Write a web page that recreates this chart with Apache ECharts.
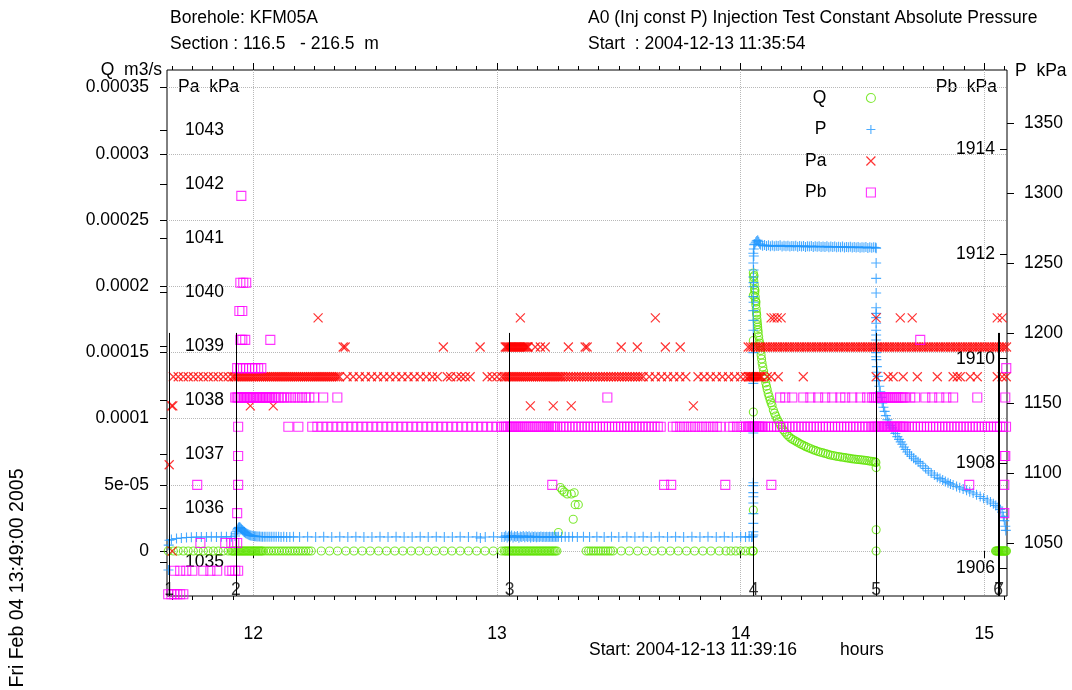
<!DOCTYPE html>
<html>
<head>
<meta charset="utf-8">
<script src="https://cdn.jsdelivr.net/npm/echarts@6/dist/echarts.min.js"></script>
<style>html,body{margin:0;padding:0;background:#fff;}#c{width:1072px;height:690px;}</style>
</head>
<body>
<div id="c"></div>
<script>
// ---------------- DATA ----------------
// time axis in hours of day
const hourTicks = [12, 13, 14, 15];
const hourLabels = ['12', '13', '14', '15'];
const qTickValues = [0, 0.00005, 0.0001, 0.00015, 0.0002, 0.00025, 0.0003, 0.00035];
const qTickLabels = ['0', '5e-05', '0.0001', '0.00015', '0.0002', '0.00025', '0.0003', '0.00035'];
const paTickValues = [1035, 1036, 1037, 1038, 1039, 1040, 1041, 1042, 1043];
const pTickValues = [1050, 1100, 1150, 1200, 1250, 1300, 1350];
const pbTickValues = [1906, 1908, 1910, 1912, 1914];

// test phase markers
const phaseTimes = [11.6544, 11.929, 13.052, 14.053, 14.556, 15.057, 15.061];
const phaseLabels = ['1', '2', '3', '4', '5', '6', '7'];

// Q (m3/s): logged times where Q reads 0
const qZeroTimes = [
11.651,11.672,11.692,11.713,11.733,11.754,11.774,11.795,11.815,11.836,11.856,11.877,11.897,
11.910,11.915,11.920,11.925,11.930,11.935,11.940,11.945,11.950,11.955,11.960,11.965,11.970,11.975,11.980,11.985,11.990,11.995,12.000,12.005,12.010,12.015,12.020,12.025,12.030,12.035,
12.040,12.051,12.062,12.073,12.084,12.095,12.106,12.117,12.128,12.139,12.150,12.161,12.172,12.183,12.194,12.205,12.216,12.227,12.238,
12.279,12.313,12.346,12.380,12.413,12.447,12.480,12.514,12.547,12.581,12.614,12.648,12.681,12.715,12.748,12.782,12.815,12.849,12.883,12.917,12.951,12.985,13.019,
13.030,13.036,13.042,13.048,13.054,13.060,13.066,13.072,13.078,13.084,13.090,13.096,13.102,13.108,13.114,13.120,13.126,13.132,13.138,13.144,13.150,13.156,13.162,13.168,13.174,13.180,13.186,13.192,13.198,13.204,13.210,13.216,13.222,13.228,13.234,13.240,13.246,
13.366,13.376,13.386,13.396,13.406,13.416,13.426,13.436,13.446,13.456,13.466,13.476,13.510,13.543,13.577,13.610,13.644,13.677,13.711,13.744,13.778,13.811,13.845,13.878,13.912,13.940,13.960,13.980,14.000,14.020,14.040,14.050,14.052,
14.556,
15.046,15.049,15.052,15.055,15.058,15.061,15.064,15.067,15.070,15.073,15.076,15.079,15.082,15.085,15.088,15.091
];
// Q (m3/s): non-zero readings [time, Q]
const qFlow = [
[13.252,1.4e-5],[13.260,4.8e-5],[13.268,4.6e-5],[13.276,4.45e-5],[13.288,4.3e-5],[13.305,4.3e-5],[13.317,4.4e-5],[13.313,2.4e-5],[13.321,3.5e-5],[13.334,3.5e-5],
[14.052,3.1e-5],[14.052,1.05e-4],[14.052,1.59e-4],[14.052,1.93e-4],
[14.052,2.10e-4],[14.053,2.07e-4],[14.054,2.04e-4],[14.055,2.08e-4],[14.056,2.01e-4],[14.057,1.98e-4],[14.058,1.95e-4],[14.059,1.97e-4],[14.060,1.92e-4],[14.061,1.89e-4],[14.062,1.86e-4],[14.063,1.88e-4],[14.064,1.83e-4],[14.065,1.80e-4],[14.066,1.78e-4],[14.067,1.75e-4],[14.068,1.73e-4],[14.069,1.71e-4],[14.070,1.69e-4],[14.071,1.67e-4],[14.072,1.65e-4],[14.074,1.62e-4],[14.076,1.59e-4],[14.078,1.57e-4],[14.080,1.55e-4],[14.082,1.515e-4],[14.084,1.48e-4],[14.086,1.45e-4],[14.088,1.42e-4],[14.091,1.39e-4],[14.094,1.36e-4],[14.097,1.33e-4],[14.100,1.30e-4],[14.103,1.27e-4],[14.106,1.245e-4],[14.109,1.22e-4],[14.113,1.19e-4],[14.117,1.165e-4],[14.121,1.14e-4],[14.125,1.12e-4],[14.129,1.10e-4],[14.134,1.065e-4],[14.139,1.04e-4],[14.144,1.02e-4],[14.150,9.95e-5],[14.156,9.75e-5],[14.162,9.55e-5],[14.168,9.35e-5],[14.175,9.15e-5],[14.182,8.98e-5],[14.190,8.8e-5],[14.198,8.65e-5],[14.206,8.52e-5],[14.214,8.42e-5],[14.223,8.32e-5],[14.232,8.23e-5],[14.241,8.13e-5],[14.250,8.04e-5],[14.259,7.96e-5],[14.268,7.88e-5],[14.278,7.8e-5],[14.288,7.72e-5],[14.298,7.64e-5],[14.308,7.58e-5],[14.318,7.52e-5],[14.328,7.46e-5],[14.338,7.41e-5],[14.348,7.36e-5],[14.358,7.3e-5],[14.368,7.25e-5],[14.378,7.21e-5],[14.388,7.17e-5],[14.398,7.14e-5],[14.408,7.11e-5],[14.418,7.08e-5],[14.428,7.05e-5],[14.437,7.02e-5],[14.446,7.0e-5],[14.455,6.97e-5],[14.464,6.95e-5],[14.473,6.93e-5],[14.482,6.91e-5],[14.491,6.89e-5],[14.500,6.87e-5],[14.509,6.85e-5],[14.518,6.83e-5],[14.527,6.8e-5],[14.536,6.78e-5],[14.545,6.75e-5],[14.552,6.72e-5],[14.555,6.68e-5],[14.556,6.3e-5],[14.556,1.6e-5]
];

// P (kPa) [time, P]
const pPairs = [
[11.652,1030.7],[11.653,1048.5],[11.656,1052.0],
[11.664,1052.5],[11.685,1053.2],[11.705,1053.6],[11.726,1053.9],[11.746,1054.1],[11.767,1054.2],[11.787,1054.3],[11.808,1054.3],[11.828,1054.4],[11.849,1054.3],[11.869,1054.4],[11.890,1054.4],[11.910,1054.5],
[11.925,1055.0],[11.928,1056.5],[11.931,1058.0],[11.934,1059.3],[11.937,1060.3],[11.940,1061.0],[11.943,1061.3],[11.946,1061.0],[11.949,1060.4],[11.952,1059.8],[11.955,1059.2],[11.958,1058.7],[11.961,1058.2],[11.964,1057.8],[11.967,1057.4],[11.970,1057.0],[11.974,1056.6],[11.978,1056.2],[11.982,1055.9],[11.986,1055.6],[11.990,1055.4],[11.995,1055.2],[12.000,1055.0],[12.005,1054.9],[12.010,1054.8],[12.015,1054.7],[12.020,1054.6],[12.026,1054.6],[12.032,1054.5],[12.038,1054.5],[12.045,1054.5],[12.052,1054.4],[12.060,1054.4],[12.068,1054.5],[12.076,1054.4],[12.085,1054.4],[12.094,1054.4],[12.104,1054.4],[12.114,1054.3],[12.125,1054.4],[12.137,1054.3],[12.150,1054.3],[12.165,1054.4],
[12.190,1054.3],[12.223,1054.4],[12.256,1054.3],[12.289,1054.4],[12.322,1054.3],[12.355,1054.4],[12.388,1054.3],[12.421,1054.4],[12.454,1054.3],[12.487,1054.3],[12.520,1054.4],[12.553,1054.3],[12.586,1054.4],[12.619,1054.3],[12.652,1054.3],[12.685,1054.4],[12.718,1054.3],[12.751,1054.4],[12.784,1054.3],[12.817,1054.3],[12.849,1054.4],[12.883,1054.3],[12.917,1054.4],[12.932,1053.6],[12.952,1054.3],[12.986,1054.4],[13.020,1054.3],
[13.030,1054.2],[13.036,1055.1],[13.042,1053.9],[13.048,1054.8],[13.054,1054.4],[13.060,1055.3],[13.066,1054.0],[13.072,1054.9],[13.078,1054.3],[13.084,1055.0],[13.090,1053.8],[13.096,1054.7],[13.102,1054.2],[13.108,1055.0],[13.114,1054.1],[13.120,1054.8],[13.126,1054.3],[13.132,1054.9],[13.138,1054.0],[13.144,1054.6],[13.150,1054.3],[13.156,1054.7],[13.162,1054.1],[13.168,1054.5],[13.174,1054.3],[13.180,1054.6],[13.186,1054.2],[13.192,1054.5],[13.198,1054.3],[13.204,1054.4],[13.210,1054.2],[13.216,1054.5],[13.222,1054.3],[13.228,1054.4],[13.234,1054.2],[13.240,1054.4],[13.246,1054.3],
[13.252,1054.4],[13.265,1054.3],[13.280,1054.4],[13.295,1054.3],[13.310,1054.4],[13.330,1054.3],[13.355,1054.4],[13.380,1054.3],[13.410,1054.4],[13.440,1054.3],[13.470,1054.4],[13.500,1054.3],[13.533,1054.4],[13.566,1054.3],[13.600,1054.4],[13.633,1054.3],[13.666,1054.4],[13.700,1054.3],[13.733,1054.4],[13.766,1054.3],[13.800,1054.4],[13.833,1054.3],[13.866,1054.4],[13.900,1054.3],[13.933,1054.4],[13.966,1054.3],[14.000,1054.4],[14.020,1054.3],[14.035,1054.4],[14.045,1054.3],[14.050,1054.5],
[14.052,1055.7],[14.052,1058.0],[14.052,1064.0],[14.052,1071.0],[14.052,1078.6],[14.052,1083.0],[14.052,1086.0],[14.052,1091.0],[14.052,1093.0],[14.052,1128.6],[14.052,1164.0],[14.052,1186.0],[14.052,1202.0],[14.052,1209.0],[14.052,1216.0],[14.053,1222.0],[14.052,1226.0],[14.052,1233.0],[14.053,1236.0],[14.052,1240.0],[14.053,1245.0],[14.052,1250.0],[14.054,1255.0],[14.052,1257.0],[14.054,1260.0],[14.055,1263.0],
[14.058,1263.5],[14.062,1264.8],[14.066,1265.8],[14.070,1266.2],[14.074,1265.2],[14.078,1263.8],
[14.082,1263.0],[14.090,1262.4],[14.098,1262.8],[14.106,1262.2],[14.114,1262.6],[14.122,1262.0],[14.130,1262.5],[14.138,1261.9],[14.146,1262.4],[14.154,1262.1],[14.162,1262.6],[14.170,1261.8],[14.178,1262.3],[14.186,1262.0],[14.194,1262.4],[14.202,1261.7],[14.210,1262.2],[14.218,1261.9],[14.226,1262.3],[14.234,1261.6],[14.242,1262.1],[14.250,1261.8],[14.258,1262.2],[14.266,1261.5],[14.274,1262.0],[14.282,1261.7],[14.290,1262.1],[14.298,1261.5],[14.306,1261.9],[14.314,1261.6],[14.322,1262.0],[14.330,1261.4],[14.338,1261.8],[14.346,1261.5],[14.354,1261.9],[14.362,1261.3],[14.370,1261.7],[14.378,1261.4],[14.386,1261.8],[14.394,1261.2],[14.402,1261.6],[14.410,1261.3],[14.418,1261.7],[14.426,1261.1],[14.434,1261.5],[14.442,1261.2],[14.450,1261.6],[14.458,1261.0],[14.466,1261.4],[14.474,1261.1],[14.482,1261.5],[14.490,1260.9],[14.498,1261.3],[14.506,1261.0],[14.514,1261.4],[14.522,1260.8],[14.530,1261.2],[14.538,1260.9],[14.546,1261.3],[14.554,1261.0],
[14.556,1260.5],[14.556,1250.0],[14.556,1239.0],[14.556,1228.6],[14.556,1218.0],[14.556,1214.0],[14.556,1211.0],[14.556,1207.0],[14.556,1202.0],[14.556,1198.6],[14.556,1195.0],[14.556,1192.0],[14.556,1189.0],[14.556,1186.0],[14.556,1183.0],
[14.557,1181],[14.559,1176],[14.561,1172],[14.563,1169],[14.565,1166],[14.569,1162],[14.573,1158],[14.577,1154],[14.581,1150],[14.586,1147],[14.591,1144],[14.596,1141],[14.602,1138],[14.608,1136],[14.614,1134],[14.621,1132.2],[14.628,1130.5],[14.635,1128.2],[14.643,1126],[14.650,1124],[14.657,1122.2],[14.663,1120.5],[14.670,1118.6],[14.677,1116.8],[14.684,1115],[14.693,1113.4],[14.701,1112],[14.710,1110.5],[14.719,1109.3],[14.728,1108.1],[14.737,1107],[14.748,1105.1],[14.759,1103.3],[14.770,1101.5],[14.782,1100],[14.795,1098.5],[14.807,1097],[14.818,1096],[14.829,1095],[14.840,1094],[14.851,1093.1],[14.861,1092.2],[14.872,1091.4],[14.886,1090.4],[14.899,1089.5],[14.913,1088.5],[14.927,1087.6],[14.940,1086.6],[14.954,1085.7],[14.968,1084.5],[14.983,1083.2],[14.997,1081.9],[15.012,1080.7],[15.025,1079.3],[15.037,1078],[15.047,1076.8],[15.057,1075.7],[15.065,1074],[15.073,1072],[15.078,1069],[15.082,1066],[15.086,1062],[15.088,1059]
];

// Pa (kPa): logger levels and the times each level was read
const PA_LOW = 1038.43, PA_HIGH = 1038.98, PA_TOP = 1039.52, PA_DIP = 1037.89;
const paLowTimes = [
11.672,11.692,11.713,11.733,11.754,11.774,11.795,11.815,11.836,11.856,11.877,11.897,11.915,
11.922,11.930,11.938,11.946,11.954,11.962,11.970,11.978,11.986,11.994,12.002,12.010,12.018,12.026,12.034,12.042,12.050,12.058,12.066,12.074,12.082,12.090,12.098,12.106,12.114,12.122,12.130,12.138,12.146,12.154,12.162,12.170,12.178,12.186,12.194,12.202,12.210,12.218,12.226,12.234,12.242,12.250,12.258,12.266,12.274,12.282,12.290,12.298,12.306,12.314,12.322,12.330,12.338,12.346,12.354,
12.385,12.410,12.435,12.460,12.485,12.510,12.535,12.560,12.585,12.610,12.635,12.660,12.685,12.710,12.735,12.755,12.796,12.810,12.835,12.853,12.870,12.890,12.960,12.980,13.000,13.020,
13.030,13.038,13.046,13.054,13.062,13.070,13.078,13.086,13.094,13.102,13.110,13.118,13.126,13.134,13.142,13.150,13.158,13.166,13.174,13.182,13.190,13.198,13.206,13.214,13.222,13.230,13.238,13.246,13.254,13.262,13.270,
13.281,13.292,13.303,13.314,13.325,13.336,13.347,13.358,13.369,13.380,13.391,13.402,13.413,13.424,13.435,13.446,13.457,13.468,13.479,13.490,13.501,13.512,13.523,13.534,13.545,13.556,13.567,13.578,13.589,13.600,
13.625,13.650,13.675,13.700,13.725,13.750,13.775,13.825,13.850,13.875,13.900,13.925,13.950,13.975,14.000,14.020,
14.031,14.036,14.041,14.046,14.051,14.056,14.061,14.066,14.071,14.076,14.081,14.086,
14.109,14.125,14.154,14.257,
14.556,14.605,14.626,14.667,14.725,14.807,14.872,14.889,14.901,14.942,14.971,15.053,15.073,15.090
];
const paHighTimes = [
12.369,12.377,12.780,12.931,
13.034,13.039,13.044,13.049,13.054,13.059,13.064,13.069,13.074,13.079,13.084,13.089,13.094,13.099,13.104,13.109,13.114,13.119,13.124,13.128,
13.157,13.178,13.198,13.293,13.362,13.370,13.510,13.576,13.691,13.752,
14.031,14.041,14.051,14.061,14.071,14.081,14.091,14.101,14.111,14.121,14.131,14.141,14.151,14.161,14.171,14.181,14.191,14.201,14.211,14.221,14.231,14.241,14.251,14.261,14.271,14.281,14.291,14.301,14.311,14.321,14.331,14.341,14.351,14.361,14.371,14.381,14.391,14.401,14.411,14.421,14.431,14.441,14.451,14.461,14.471,14.481,14.491,14.501,14.511,14.521,14.531,14.541,14.551,14.561,14.571,14.581,14.591,14.601,14.611,14.621,14.631,14.641,14.651,14.661,14.671,14.681,14.691,14.701,14.711,14.721,14.731,14.741,14.751,14.761,14.771,14.781,14.791,14.801,14.811,14.821,14.831,14.841,14.851,14.861,14.871,14.881,14.891,14.901,14.911,14.921,14.931,14.941,14.951,14.961,14.971,14.981,14.991,15.001,15.011,15.021,15.031,15.041,15.051,15.061,15.071,15.081,15.091
];
const paTopTimes = [12.266,13.096,13.650,14.125,14.137,14.150,14.166,14.556,14.655,14.704,15.053,15.073];
const paDipTimes = [11.665,11.670,11.988,12.082,13.137,13.231,13.305,13.806];
const paOther = [[11.655,1036.8],[11.667,1035.2]];

// Pb (kPa): main logger levels and times
const PB_BAND = 1908.70, PB_UPPER = 1909.26;
const pbBandTimes = [
11.938,12.144,12.185,
12.242,12.263,12.283,12.304,12.324,12.345,12.365,12.386,12.406,12.427,12.447,12.468,12.488,12.509,12.529,12.550,12.570,12.591,12.611,12.632,12.652,12.673,12.693,12.714,12.734,12.755,12.775,12.796,12.816,12.837,12.857,12.878,12.898,12.919,12.939,12.960,12.980,13.001,13.021,
13.030,13.038,13.046,13.054,13.062,13.070,13.078,13.086,13.094,13.102,13.110,13.118,13.126,13.134,13.142,13.150,13.158,13.166,13.174,13.182,13.190,13.198,13.206,13.214,13.222,13.230,13.238,13.246,
13.260,13.272,13.285,13.297,13.310,13.322,13.335,13.347,13.360,13.372,13.385,13.397,13.410,13.422,13.435,13.447,13.460,13.472,13.485,13.497,13.510,13.522,13.535,13.547,13.560,13.572,13.585,13.597,13.610,13.622,13.635,13.647,13.660,13.672,
13.722,13.737,13.752,13.767,13.782,13.797,13.812,13.827,13.842,13.857,13.872,13.887,13.902,13.917,
13.955,13.970,13.985,14.000,14.012,14.022,
14.030,14.035,14.040,14.045,14.050,14.055,14.060,14.065,14.070,14.075,14.080,14.085,14.090,
14.100,14.112,14.125,14.137,14.150,14.162,14.175,14.187,14.200,14.212,14.225,14.237,14.250,14.262,14.275,14.287,14.300,14.312,14.325,14.337,14.350,14.362,14.375,14.387,14.400,14.412,14.425,14.437,14.450,14.462,14.475,14.487,14.500,14.512,14.525,14.537,
14.545,14.551,14.557,14.563,14.569,14.575,14.581,14.587,14.593,14.599,14.605,14.611,14.617,14.623,14.629,14.635,14.641,14.647,14.653,14.659,14.665,14.671,14.677,
14.690,14.702,14.715,14.727,14.740,14.752,14.765,14.777,14.790,14.802,14.815,14.827,14.840,14.852,14.865,14.877,14.890,14.902,14.915,14.927,14.940,14.952,14.965,14.977,14.990,15.002,15.015,15.027,15.040,15.052,15.065,15.077,15.089
];
const pbUpperTimes = [
11.926,11.932,11.938,11.944,11.950,11.956,11.962,11.968,11.974,11.980,11.986,11.992,11.998,12.004,12.010,12.016,12.022,12.028,12.034,12.040,12.046,12.052,12.058,12.064,12.070,12.076,12.084,12.094,12.104,12.114,12.126,12.140,12.155,12.170,12.185,12.200,12.215,12.230,12.250,12.287,12.345,
13.453,14.162,14.183,14.212,14.257,14.286,14.318,14.347,14.376,14.409,14.429,14.458,14.491,14.519,
14.540,14.548,14.556,14.564,14.572,14.580,14.588,14.596,14.604,14.612,14.620,14.628,14.636,14.644,14.652,14.660,14.668,14.675,
14.696,14.716,14.758,14.786,14.815,14.844,14.872,14.971,15.086
];
const pbOther = [
[11.651,1905.5],[11.664,1905.5],[11.676,1905.5],[11.688,1905.5],[11.700,1905.5],[11.713,1905.5],
[11.676,1905.95],[11.700,1905.95],[11.725,1905.95],[11.750,1905.95],[11.795,1905.95],[11.824,1905.95],[11.852,1905.95],[11.902,1905.95],[11.914,1905.95],[11.926,1905.95],[11.938,1905.95],
[11.783,1906.48],[11.885,1906.48],[11.910,1906.48],[11.922,1906.48],[11.934,1906.48],
[11.934,1907.05],[15.082,1907.05],
[11.770,1907.59],[11.938,1907.59],[13.227,1907.59],[13.686,1907.59],[13.715,1907.59],[13.937,1907.59],[14.126,1907.59],[14.938,1907.59],[15.082,1907.59],
[11.938,1908.14],[15.082,1908.14],[15.086,1908.14],
[11.934,1909.82],[11.946,1909.82],[11.958,1909.82],[11.970,1909.82],[11.983,1909.82],[11.995,1909.82],[12.008,1909.82],[12.020,1909.82],[12.033,1909.82],[15.090,1909.82],
[11.947,1910.36],[11.955,1910.36],[11.967,1910.36],[12.070,1910.36],[14.737,1910.36],
[11.943,1910.91],[11.955,1910.91],
[11.947,1911.45],[11.959,1911.45],[11.971,1911.45],
[11.951,1913.11]
];

// ---------------- CHART ----------------
const FONT = 'Liberation Sans';
const FS = 17.5;
const GREEN = '#5fe300', BLUE = '#1e96ff', RED = '#ff0000', MAGENTA = '#ff00ff';
const X_MIN = 11.646, X_MAX = 15.093;
const Q_MIN = -0.000034, Q_MAX = 0.0003633;
const PA_MIN = 1034.37, PA_MAX = 1044.11;
const P_MIN = 1012.14, P_MAX = 1387.86;
const PB_MIN = 1905.467, PB_MAX = 1915.515;
const PHASE_TOP = 0.0001647;
const PLUS = 'path://M0 5 L10 5 M5 0 L5 10';
const CROSS = 'path://M0 0 L10 10 M10 0 L0 10';

const minorTicks = [];
for (let k = 140; k <= 181; k++) { if (k % 12 !== 0) minorTicks.push(k / 12); }

const qData = qZeroTimes.map(t => [t, 0]).concat(qFlow);
const paData = paLowTimes.map(t => [t, PA_LOW])
  .concat(paHighTimes.map(t => [t, PA_HIGH]))
  .concat(paTopTimes.map(t => [t, PA_TOP]))
  .concat(paDipTimes.map(t => [t, PA_DIP]))
  .concat(paOther);
const pbData = pbBandTimes.map(t => [t, PB_BAND])
  .concat(pbUpperTimes.map(t => [t, PB_UPPER]))
  .concat(pbOther);

const labelStyle = { fontFamily: FONT, fontSize: FS, color: '#000' };
function nearestLabel(v, values, labels) {
  let bi = 0;
  for (let i = 1; i < values.length; i++) if (Math.abs(values[i] - v) < Math.abs(values[bi] - v)) bi = i;
  return labels[bi];
}
function xAxisDef(position, ticks, len, showLabel, showSplit) {
  return {
    type: 'value', position: position, min: X_MIN, max: X_MAX,
    axisLine: { show: false },
    axisTick: { show: true, customValues: ticks, length: len, lineStyle: { color: '#000', width: 1 } },
    axisLabel: showLabel ? Object.assign({ show: true, customValues: hourTicks, margin: 29,
      formatter: v => nearestLabel(v, hourTicks, hourLabels) }, labelStyle) : { show: false },
    splitLine: { show: showSplit, lineStyle: { type: 'dotted', color: '#b8b8b8', width: 1 } }
  };
}
function yAxisDef(position, min, max, ticks, tickInside, labelInside, margin, fmt, split) {
  return {
    type: 'value', position: position, min: min, max: max,
    axisLine: { show: false },
    axisTick: { show: true, customValues: ticks, inside: tickInside, length: 7, lineStyle: { color: '#000', width: 1 } },
    axisLabel: Object.assign({ show: true, customValues: ticks, inside: labelInside, margin: margin, formatter: fmt }, labelStyle),
    splitLine: { show: split, lineStyle: { type: 'dotted', color: '#b8b8b8', width: 1 } }
  };
}
function txt(x, y, text, align, extra, size) {
  return Object.assign({ type: 'text', x: x, y: y, silent: true,
    style: { text: text, fontFamily: FONT, fontSize: size || FS, fill: '#000', align: align || 'left', verticalAlign: 'middle' } }, extra || {});
}

const chart = echarts.init(document.getElementById('c'), null, { renderer: 'canvas' });
chart.setOption({
  animation: false,
  backgroundColor: '#fff',
  grid: { left: 167, right: 65, top: 70, bottom: 94, show: true, borderColor: '#000', borderWidth: 1, backgroundColor: 'transparent', outerBoundsMode: 'none' },
  xAxis: [
    xAxisDef('bottom', hourTicks, 7, true, true),
    xAxisDef('bottom', minorTicks, 4, false, false),
    xAxisDef('top', hourTicks, 7, false, false),
    xAxisDef('top', minorTicks, 4, false, false)
  ],
  yAxis: [
    yAxisDef('left', Q_MIN, Q_MAX, qTickValues, false, false, 18, v => nearestLabel(v, qTickValues, qTickLabels), true),
    yAxisDef('left', PA_MIN, PA_MAX, paTickValues, false, true, 18, v => String(Math.round(v)), false),
    yAxisDef('right', P_MIN, P_MAX, pTickValues, false, false, 17, v => String(Math.round(v)), false),
    yAxisDef('right', PB_MIN, PB_MAX, pbTickValues, true, true, 12, v => String(Math.round(v)), false)
  ],
  legend: {
    data: [
      { name: 'Q', icon: 'circle', itemStyle: { color: 'transparent', borderColor: GREEN, borderWidth: 1.1 } },
      { name: 'P', icon: PLUS, itemStyle: { color: 'transparent', borderColor: BLUE, borderWidth: 1.1 } },
      { name: 'Pa', icon: CROSS, itemStyle: { color: 'transparent', borderColor: RED, borderWidth: 1.2 } },
      { name: 'Pb', icon: 'rect', itemStyle: { color: 'transparent', borderColor: MAGENTA, borderWidth: 1.1 } }
    ],
    orient: 'vertical', align: 'right', right: 196, top: 89, padding: 0,
    itemWidth: 9, itemHeight: 9, itemGap: 13.5, selectedMode: false,
    textStyle: { fontFamily: FONT, fontSize: FS, color: '#000', padding: [0, 35, 0, 0] }
  },
  series: [
    { name: 'Q', type: 'scatter', xAxisIndex: 0, yAxisIndex: 0, symbol: 'circle', symbolSize: 8, silent: true,
      itemStyle: { color: 'transparent', borderColor: GREEN, borderWidth: 1.1 }, data: qData },
    { name: 'P', type: 'scatter', xAxisIndex: 0, yAxisIndex: 2, symbol: PLUS, symbolSize: 10, silent: true,
      itemStyle: { color: 'transparent', borderColor: BLUE, borderWidth: 1.1 }, data: pPairs },
    { name: 'Pa', type: 'scatter', xAxisIndex: 0, yAxisIndex: 1, symbol: CROSS, symbolSize: 9, silent: true,
      itemStyle: { color: 'transparent', borderColor: RED, borderWidth: 1.2 }, data: paData },
    { name: 'Pb', type: 'scatter', xAxisIndex: 0, yAxisIndex: 3, symbol: 'rect', symbolSize: 9, silent: true,
      itemStyle: { color: 'transparent', borderColor: MAGENTA, borderWidth: 1.1 }, data: pbData },
    { name: 'phases', type: 'scatter', xAxisIndex: 0, yAxisIndex: 0, symbolSize: 0, silent: true,
      data: phaseTimes.map((t, i) => ({ value: [t, Q_MIN], label: { formatter: phaseLabels[i] } })),
      label: Object.assign({ show: true, position: 'top', distance: -3 }, labelStyle),
      markLine: { silent: true, symbol: ['none', 'none'], label: { show: false },
        lineStyle: { color: '#000', width: 1, type: 'solid' },
        data: phaseTimes.map(t => [{ coord: [t, PHASE_TOP] }, { coord: [t, Q_MIN] }]) } }
  ],
  graphic: [
    txt(170, 18, 'Borehole: KFM05A'),
    txt(170, 44, 'Section : 116.5   - 216.5  m'),
    txt(588, 18, 'A0 (Inj const P) Injection Test Constant Absolute Pressure'),
    txt(588, 44, 'Start  : 2004-12-13 11:35:54'),
    txt(162, 70, 'Q  m3/s', 'right'),
    txt(178, 87, 'Pa  kPa', 'left'),
    txt(997, 87, 'Pb  kPa', 'right'),
    txt(1015, 71, 'P  kPa', 'left'),
    txt(589, 650, 'Start: 2004-12-13 11:39:16'),
    txt(840, 650, 'hours'),
    txt(18, 578, 'Fri Feb 04 13:49:00 2005', 'center', { rotation: Math.PI / 2 }, 19.5)
  ]
});
</script>
</body>
</html>
